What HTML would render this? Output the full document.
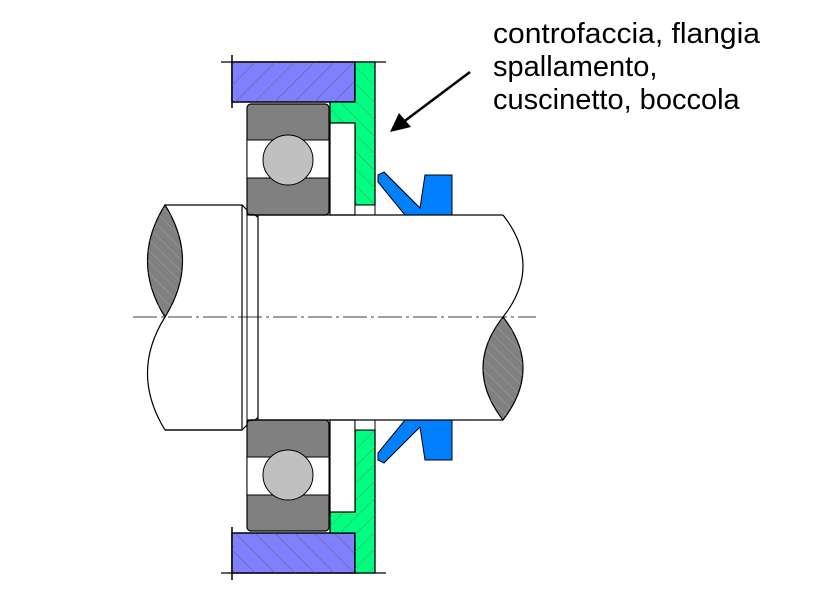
<!DOCTYPE html>
<html><head><meta charset="utf-8"><style>
html,body{margin:0;padding:0;background:#fff;}
svg{display:block;}
</style></head><body>
<svg width="813" height="609" viewBox="0 0 813 609" xmlns="http://www.w3.org/2000/svg">
<defs>
<pattern id="h1" width="14" height="14" patternUnits="userSpaceOnUse" patternTransform="rotate(45)">
<line x1="0" y1="0" x2="0" y2="14" stroke="#555" stroke-width="0.8"/>
</pattern>
<pattern id="h2" width="12" height="12" patternUnits="userSpaceOnUse" patternTransform="rotate(-45)">
<line x1="0" y1="0" x2="0" y2="12" stroke="#777" stroke-width="0.8"/>
</pattern>
<pattern id="h3" width="8" height="8" patternUnits="userSpaceOnUse" patternTransform="rotate(-45)">
<line x1="0" y1="0" x2="0" y2="8" stroke="#aaa" stroke-width="0.7"/>
</pattern>
<g id="half">
  <line x1="221" y1="62" x2="386" y2="62" stroke="#000" stroke-width="1.2"/>
  <line x1="232" y1="55" x2="232" y2="108" stroke="#000" stroke-width="1.5"/>
  <rect x="232" y="62" width="123" height="40" fill="#8080ff" stroke="#000" stroke-width="1.5"/>
  <rect x="232" y="62" width="123" height="40" fill="url(#h1)"/>
  <path d="M355 62 L375 62 L375 205 L355 205 L355 123 L330 123 L330 102 L355 102 Z" fill="#00ff80" stroke="#000" stroke-width="1.3"/>
  <path d="M355 62 L375 62 L375 205 L355 205 L355 123 L330 123 L330 102 L355 102 Z" fill="url(#h2)"/>
  <rect x="330" y="123" width="25" height="92" fill="#fff" stroke="#000" stroke-width="1.2"/>
  <rect x="355" y="205" width="20" height="10" fill="#fff" stroke="#000" stroke-width="1"/>
  <rect x="247" y="104" width="82" height="111" rx="4" fill="#808080" stroke="#000" stroke-width="1.2"/>
  <rect x="247" y="140" width="82" height="38" fill="#fff" stroke="#000" stroke-width="1"/>
  <circle cx="288" cy="160" r="25" fill="#c0c0c0" stroke="#000" stroke-width="1"/>
  <path d="M378 175 L384 172 L420 208 L425 175 L452 175 L452 215 L405 215 L378 182 Z" fill="#0080ff" stroke="#000" stroke-width="1"/>
  <path d="M165 205 L242 205 L247 210 L247 215" fill="none" stroke="#000" stroke-width="1.2"/>
  <line x1="247" y1="215" x2="503" y2="215" stroke="#000" stroke-width="1.2"/>
</g>
</defs>
<use href="#half"/>
<g transform="matrix(1 0 0 -1 0 635)"><use href="#half"/></g>
<line x1="242" y1="205" x2="242" y2="430" stroke="#000" stroke-width="1.2"/>
<line x1="247" y1="210" x2="247" y2="425" stroke="#000" stroke-width="1"/>
<line x1="258" y1="215" x2="258" y2="420" stroke="#000" stroke-width="1.2"/>
<path d="M247 215 Q255 213 258 218 M247 420 Q255 422 258 417" fill="none" stroke="#000" stroke-width="1"/>
<path d="M165 205 Q130 261 165 317 Q200 261 165 205 Z" fill="#808080" stroke="#000" stroke-width="1.2"/>
<path d="M165 205 Q130 261 165 317 Q200 261 165 205 Z" fill="url(#h3)"/>
<path d="M165 317 Q130 373 165 430" fill="none" stroke="#000" stroke-width="1.2"/>
<line x1="165" y1="430" x2="242" y2="430" stroke="#000" stroke-width="1.2"/>
<path d="M503 215 Q543 266 503 317" fill="none" stroke="#000" stroke-width="1.2"/>
<path d="M503 317 Q463 368 503 420 Q543 368 503 317 Z" fill="#808080" stroke="#000" stroke-width="1.2"/>
<path d="M503 317 Q463 368 503 420 Q543 368 503 317 Z" fill="url(#h3)"/>
<line x1="133" y1="317" x2="536" y2="317" stroke="#000" stroke-width="0.8" stroke-dasharray="24,4,3,4"/>
<line x1="470" y1="72" x2="402" y2="123" stroke="#000" stroke-width="2.5"/>
<polygon points="390,132 399,113 411,127" fill="#000"/>
<text font-family="Liberation Sans, sans-serif" font-size="29" fill="#000">
<tspan x="493" y="43" textLength="267" lengthAdjust="spacingAndGlyphs">controfaccia, flangia</tspan>
<tspan x="493" y="76">spallamento,</tspan>
<tspan x="493" y="109">cuscinetto, boccola</tspan>
</text>
</svg>
</body></html>
